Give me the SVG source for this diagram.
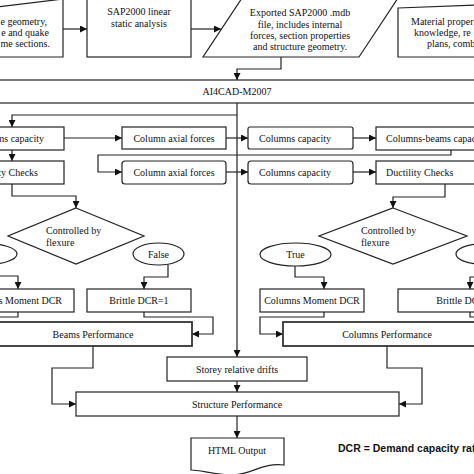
<svg xmlns="http://www.w3.org/2000/svg" width="474" height="474" viewBox="0 0 474 474">
<defs>
<style>
.b{fill:#fff;stroke:#222;stroke-width:1.2}
.bp{fill:#fff;stroke:#333;stroke-width:1.8}
.t{font-family:"Liberation Serif","Times New Roman",serif;font-size:10px;fill:#111;text-anchor:middle}
.ts{font-family:"Liberation Serif","Times New Roman",serif;font-size:10px;fill:#111}
.c{fill:none;stroke:#222;stroke-width:1.2}
.k{font-family:"Liberation Sans",Arial,sans-serif;font-size:10.5px;font-weight:bold;fill:#111}
</style>
<marker id="ah" viewBox="0 0 10 10" refX="10" refY="5" markerWidth="7" markerHeight="7" orient="auto" markerUnits="userSpaceOnUse"><path d="M0,0 L10,5 L0,10 z" fill="#111"/></marker>
</defs>
<rect width="474" height="474" fill="#fff"/>
<g id="connectors">
<path class="c" d="M63,29 H87" marker-end="url(#ah)"/>
<path class="c" d="M191,29 H221" marker-end="url(#ah)"/>
<path class="c" d="M281,57 V69 H237 V80" marker-end="url(#ah)"/>
<path class="c" d="M237,103 V357" marker-end="url(#ah)"/>
<path class="c" d="M237,115 H12 V127" marker-end="url(#ah)"/>
<path class="c" d="M64,138 H122" marker-end="url(#ah)"/>
<path class="c" d="M226,138 H248" marker-end="url(#ah)"/>
<path class="c" d="M353,138 H376" marker-end="url(#ah)"/>
<path class="c" d="M12,150 V161" marker-end="url(#ah)"/>
<path class="c" d="M451,150 V155 H98 V172 H122" marker-end="url(#ah)"/>
<path class="c" d="M226,172 H248" marker-end="url(#ah)"/>
<path class="c" d="M353,172 H376" marker-end="url(#ah)"/>
<path class="c" d="M12,184 V196 H76 V208" marker-end="url(#ah)"/>
<path class="c" d="M445,184 V197 H393 V208" marker-end="url(#ah)"/>
<path class="c" d="M-18,265 V276 H18 V289" marker-end="url(#ah)"/>
<path class="c" d="M168,265 V277 H144 V289" marker-end="url(#ah)"/>
<path class="c" d="M295,266 V277 H324 V289" marker-end="url(#ah)"/>
<path class="c" d="M480,277 H470 V289" marker-end="url(#ah)"/>
<path class="c" d="M18,312 V317 H-10"/>
<path class="c" d="M144,312 V317 H213 V334 H192" marker-end="url(#ah)"/>
<path class="c" d="M324,312 V317 H260 V334 H283" marker-end="url(#ah)"/>
<path class="c" d="M470,312 V317 H480"/>
<path class="c" d="M93,346 V368 H52 V404 H76" marker-end="url(#ah)"/>
<path class="c" d="M387,346 V368 H422 V404 H399" marker-end="url(#ah)"/>
<path class="c" d="M237,381 V392" marker-end="url(#ah)"/>
<path class="c" d="M237,416 V438" marker-end="url(#ah)"/>
</g>
<g id="input-left">
<polygon class="b" points="-60,14 63,-1 63,57 -60,57"/>
<text class="ts" text-anchor="end" x="47" y="24.5">e geometry,</text>
<text class="ts" text-anchor="end" x="49" y="36">e and quake</text>
<text class="ts" text-anchor="end" x="50" y="47">me sections.</text>
</g>
<g id="sap-analysis">
<rect class="b" x="87" y="-2" width="104" height="59"/>
<text class="t" x="139" y="15">SAP2000 linear</text>
<text class="t" x="139" y="27">static analysis</text>
</g>
<g id="mdb-file">
<polygon class="b" points="203,57 359,57 400,-5 244,-5"/>
<text class="t" x="300" y="16">Exported SAP2000 .mdb</text>
<text class="t" x="300" y="27.5">file, includes internal</text>
<text class="t" x="300" y="39">forces, section properties</text>
<text class="t" x="300" y="50">and structure geometry.</text>
</g>
<g id="input-right">
<polygon class="b" points="398,8 480,5 480,57 398,57"/>
<text class="ts" x="411" y="24.5">Material proper</text>
<text class="ts" x="414" y="36">knowledge, re</text>
<text class="ts" x="427" y="47">plans, comb</text>
</g>
<g id="ai4cad">
<rect class="b" x="-5" y="80" width="484" height="23"/>
<text class="t" x="237" y="95">AI4CAD-M2007</text>
</g>
<g id="beams-capacity">
<rect class="b" x="-40" y="127" width="104" height="23"/>
<text class="ts" text-anchor="end" x="44" y="141.5">Beams capacity</text>
</g>
<g id="beams-ductility">
<rect class="b" x="-40" y="161" width="104" height="23"/>
<text class="ts" text-anchor="end" x="38" y="175.5">Ductility Checks</text>
</g>
<g id="column-axial-1">
<rect class="b" x="122" y="127" width="104" height="22"/>
<text class="t" x="174" y="141.5">Column axial forces</text>
</g>
<g id="column-axial-2">
<rect class="b" x="122" y="161" width="104" height="23" rx="3"/>
<text class="t" x="174" y="175.5">Column axial forces</text>
</g>
<g id="columns-capacity-1">
<rect class="b" x="248" y="127" width="105" height="22" rx="2"/>
<text class="t" x="295" y="141.5">Columns capacity</text>
</g>
<g id="columns-capacity-2">
<rect class="b" x="248" y="161" width="105" height="23" rx="3"/>
<text class="t" x="295" y="175.5">Columns capacity</text>
</g>
<g id="columns-beams-capacity">
<rect class="b" x="376" y="127" width="110" height="23"/>
<text class="ts" x="386" y="141.5">Columns-beams capacity</text>
</g>
<g id="columns-ductility">
<rect class="b" x="376" y="161" width="110" height="23"/>
<text class="ts" x="386" y="175.5">Ductility Checks</text>
</g>
<g id="beams-flexure">
<polygon class="b" points="76,208 144,236 76,264 8,236"/>
<text class="ts" x="46" y="234">Controlled by</text>
<text class="ts" x="46" y="246">flexure</text>
</g>
<g id="columns-flexure">
<polygon class="b" points="393,208 467,236 393,264 319,236"/>
<text class="ts" x="361" y="234">Controlled by</text>
<text class="ts" x="361" y="246">flexure</text>
</g>
<g id="beams-true">
<ellipse class="b" cx="-18" cy="254" rx="35" ry="11"/>
<text class="t" x="-18" y="257.5">True</text>
</g>
<g id="beams-false">
<ellipse class="b" cx="158.5" cy="254" rx="25.5" ry="11"/>
<text class="t" x="158.5" y="257.5">False</text>
</g>
<g id="columns-true">
<ellipse class="b" cx="295.5" cy="254.5" rx="35.5" ry="11.5"/>
<text class="t" x="295.5" y="258">True</text>
</g>
<g id="columns-false">
<ellipse class="b" cx="482" cy="254" rx="26" ry="10"/>
</g>
<g id="beams-moment-dcr">
<rect class="b" x="-30" y="289" width="104" height="23"/>
<text class="ts" text-anchor="end" x="62" y="303.5">Beams Moment DCR</text>
</g>
<g id="beams-brittle">
<rect class="b" x="87" y="289" width="104" height="23"/>
<text class="t" x="139" y="303.5">Brittle DCR=1</text>
</g>
<g id="columns-moment-dcr">
<rect class="b" x="260" y="289" width="104" height="23"/>
<text class="t" x="312" y="303.5">Columns Moment DCR</text>
</g>
<g id="columns-brittle">
<rect class="b" x="398" y="289" width="104" height="23"/>
<text class="t" x="466" y="303.5">Brittle DCR=1</text>
</g>
<g id="beams-performance">
<rect class="bp" x="-6" y="322" width="198" height="24"/>
<text class="t" x="93" y="337.5">Beams Performance</text>
</g>
<g id="columns-performance">
<rect class="bp" x="283" y="322" width="208" height="24"/>
<text class="t" x="387" y="337.5">Columns Performance</text>
</g>
<g id="storey-drifts">
<rect class="b" x="167" y="357" width="140" height="24"/>
<text class="t" x="237" y="372.5">Storey relative drifts</text>
</g>
<g id="structure-performance">
<rect class="b" x="76" y="392" width="323" height="24"/>
<text class="t" x="237" y="407.5">Structure Performance</text>
</g>
<g id="html-output">
<path class="b" d="M191,438 H284 V465 C262,462 250,476 230,475 C212,474 200,470 191,470 Z"/>
<text class="t" x="237" y="453.5">HTML Output</text>
</g>
<text class="k" x="338" y="452">DCR = Demand capacity ratio</text>
</svg>
